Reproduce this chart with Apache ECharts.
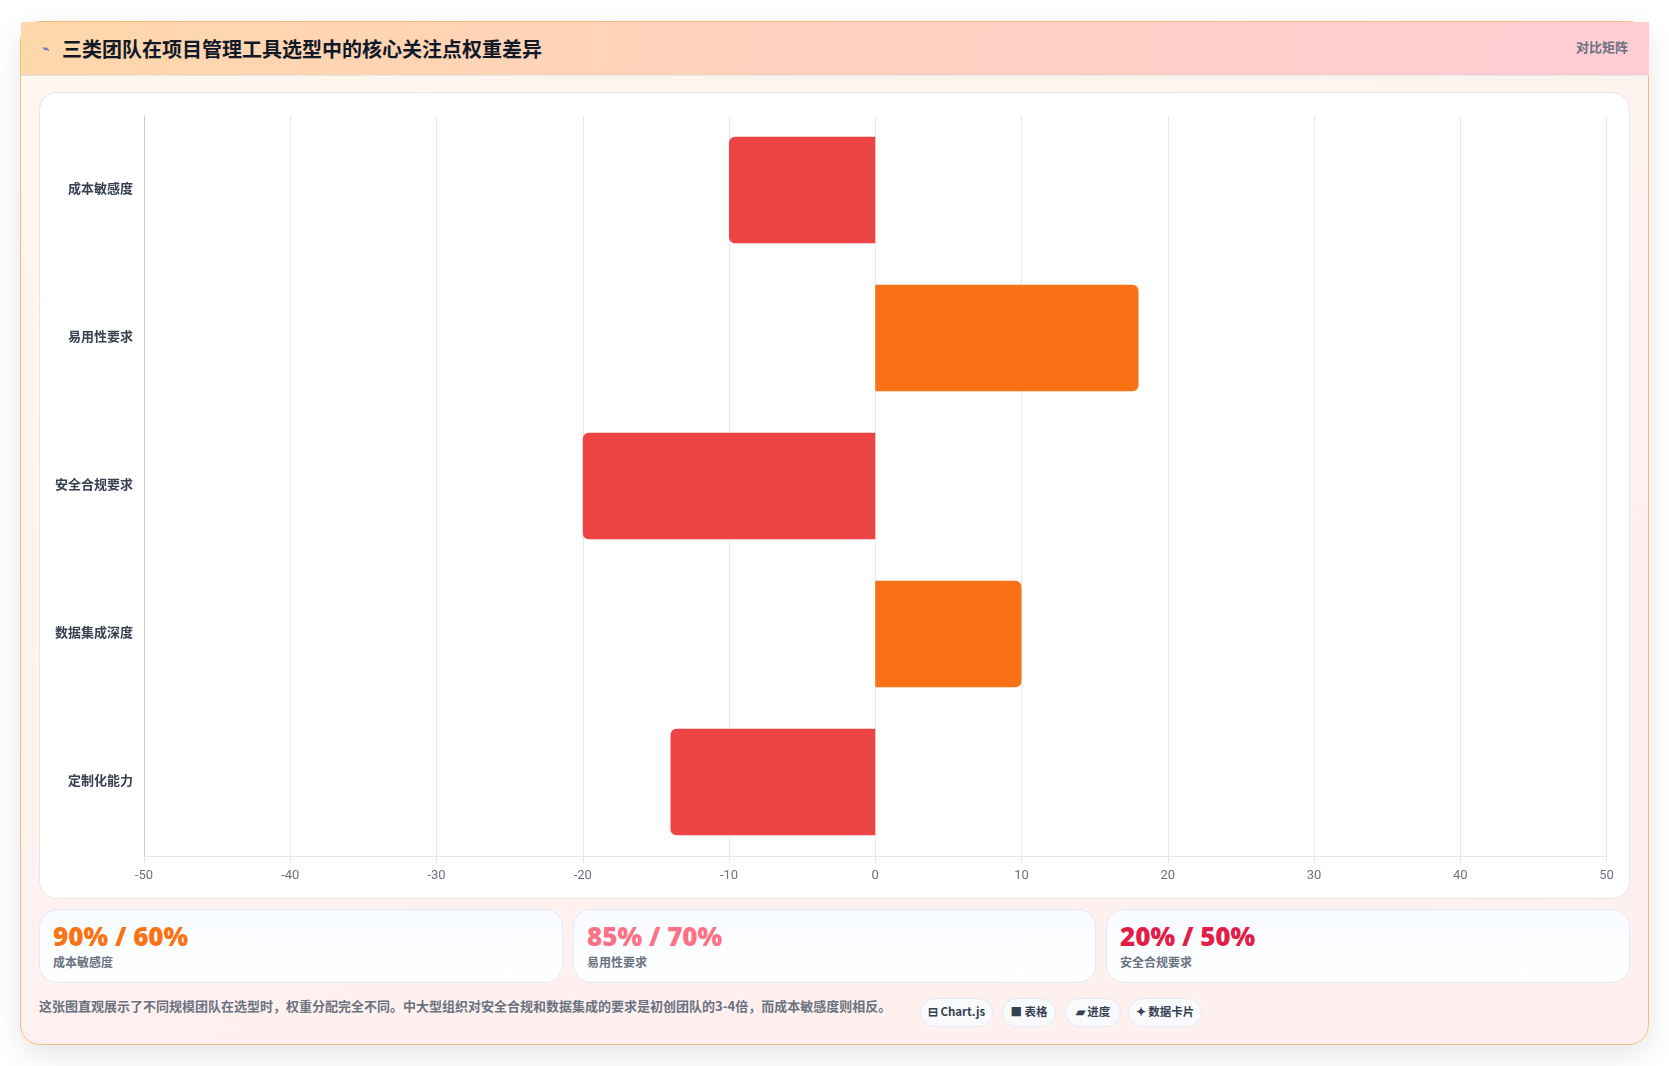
<!DOCTYPE html>
<html lang="zh"><head><meta charset="utf-8">
<script src="https://cdn.jsdelivr.net/npm/echarts@6/dist/echarts.min.js"></script>
<style>
*{box-sizing:border-box;margin:0;padding:0}
html,body{width:1669px;height:1066px;overflow:hidden;background:#fff;font-family:"Noto Sans CJK SC","Noto Sans",sans-serif}
#card{position:absolute;left:20px;top:21px;width:1629px;height:1024px;border:1px solid #f3bd80;border-radius:20px;background:linear-gradient(160deg,#fff7ed 0%,#fff1f0 60%,#fff0f0 100%);box-shadow:0 10px 30px rgba(0,0,0,.1)}
#header{position:absolute;left:0;top:0;right:-1px;height:54px;background:linear-gradient(100deg,#fed7aa,#fecdd3 95%);border-bottom:1px solid #e7e3e4}
#icon{position:absolute;left:21px;top:20px;font:13px/14px "DejaVu Sans",sans-serif;color:#4f5fd0;transform:rotate(15deg)}
#title{position:absolute;left:41px;top:12px;font-size:20px;line-height:30px;font-weight:700;color:#111827;white-space:nowrap}
#tag{position:absolute;right:21px;top:15px;font-size:13px;line-height:20px;font-weight:600;color:#6b7280;white-space:nowrap}
#panel{position:absolute;left:18px;top:70px;width:1591px;height:807px;background:#fff;border:1px solid #e5e7eb;border-radius:18px}
#chart{position:absolute;left:0;top:0;width:1589px;height:805px}
.stat{position:absolute;top:887px;height:74px;border:1px solid #e2e8f4;border-radius:18px;background:linear-gradient(180deg,#f8fbff,#fff)}
.stat b{position:absolute;left:13px;top:9px;font:900 26px/34px "Noto Sans","Open Sans",sans-serif;white-space:nowrap}
.stat span{position:absolute;left:13px;top:43px;font-size:12px;line-height:18px;font-weight:600;color:#6b7280;white-space:nowrap}
#note{position:absolute;left:18px;top:973px;font-size:13px;line-height:22px;font-weight:600;color:#6b7280;white-space:nowrap}
.chip{position:absolute;top:976px;height:29px;border:1px solid #e6eaf2;border-radius:15px;background:#f8fafc;font-size:11.5px;line-height:25px;font-weight:600;color:#374151;text-align:center;white-space:nowrap}
</style></head><body>
<div id="card">
 <div id="header"><div id="icon">⌁</div><div id="title"></div><div id="tag"></div></div>
 <div id="panel"><div id="chart"></div></div>
 <div id="stats"></div>
 <div id="note"></div>
 <div id="chips"></div>
</div>
<script>
const titleText = "三类团队在项目管理工具选型中的核心关注点权重差异";
const tagText = "对比矩阵";
const noteText = "这张图直观展示了不同规模团队在选型时，权重分配完全不同。中大型组织对安全合规和数据集成的要求是初创团队的3-4倍，而成本敏感度则相反。";
const categories = ["成本敏感度","易用性要求","安全合规要求","数据集成深度","定制化能力"];
const diffValues = [-10,18,-20,10,-14];
const axisMin = -50, axisMax = 50, axisStep = 10;
const statValues = ["90% / 60%","85% / 70%","20% / 50%"];
const statLabels = ["成本敏感度","易用性要求","安全合规要求"];
const statColors = ["#f97316","#fb7185","#e11d48"];
const statLefts = [18,552,1085], statWidths = [524,523,524];
const chipTexts = ["⊟ Chart.js","■ 表格","▰ 进度","✦ 数据卡片"];
const chipLefts = [899,981,1044,1107], chipWidths = [73,54,56,74];

document.getElementById('title').textContent = titleText;
document.getElementById('tag').textContent = tagText;
document.getElementById('note').textContent = noteText;
statValues.forEach((v,i)=>{
  const d=document.createElement('div');d.className='stat';d.style.left=statLefts[i]+'px';d.style.width=statWidths[i]+'px';
  const b=document.createElement('b');b.textContent=v;b.style.color=statColors[i];
  const s=document.createElement('span');s.textContent=statLabels[i];
  d.append(b,s);document.getElementById('stats').append(d);
});
chipTexts.forEach((t,i)=>{
  const d=document.createElement('div');d.className='chip';d.style.left=chipLefts[i]+'px';d.style.width=chipWidths[i]+'px';d.textContent=t;
  document.getElementById('chips').append(d);
});

const chart = echarts.init(document.getElementById('chart'),null,{renderer:'canvas'});
chart.setOption({
  animation:false,
  grid:{left:104,right:22.5,top:23,bottom:42,containLabel:false},
  xAxis:{type:'value',min:axisMin,max:axisMax,interval:axisStep,
    axisLine:{show:true,lineStyle:{color:'#e5e7eb'}},
    axisTick:{show:true,length:7,lineStyle:{color:'#e5e7eb'}},
    axisLabel:{color:'#6b7280',fontSize:13,margin:13,fontFamily:'Roboto,sans-serif',hideOverlap:false,showMinLabel:true,showMaxLabel:true},
    splitLine:{show:true,lineStyle:{color:'#e5e7eb',width:1}}},
  yAxis:{type:'category',inverse:true,data:categories,
    axisLine:{show:true,onZero:false,lineStyle:{color:'#c9ccd1'}},
    axisTick:{show:false},
    axisLabel:{color:'#374151',fontSize:13,fontWeight:600,margin:11,verticalAlign:'bottom',lineHeight:4,fontFamily:'"Noto Sans CJK SC",sans-serif'},
    splitLine:{show:false}},
  series:[{type:'bar',barWidth:'72%',
    data:diffValues.map(v=>({value:v,itemStyle:{color:v<0?'#ef4444':'#f97316',borderRadius:v<0?[6,0,0,6]:[0,6,6,0]}}))}]
});
</script>
</body></html>
